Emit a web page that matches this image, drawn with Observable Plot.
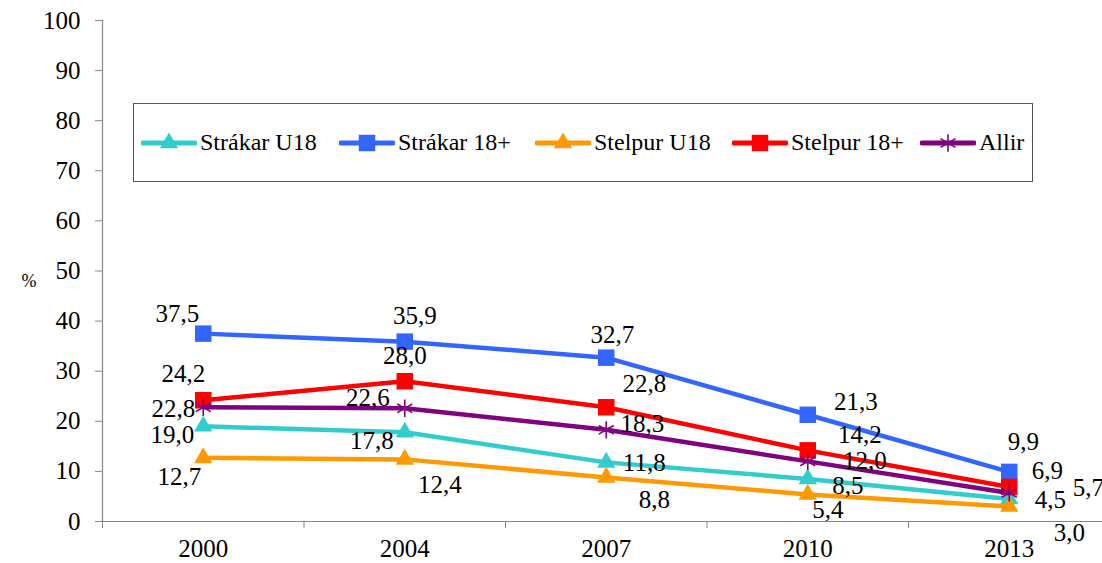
<!DOCTYPE html>
<html>
<head>
<meta charset="utf-8">
<script src="https://cdn.jsdelivr.net/npm/d3@7"></script>
<script src="https://cdn.jsdelivr.net/npm/@observablehq/plot@0.6"></script>
<style>
  html, body { margin: 0; padding: 0; background: #fff; overflow: hidden; }
  #wrap { position: relative; width: 1102px; height: 563px; font-family: 'Liberation Serif', Tinos, 'Times New Roman', Times, 'Nimbus Roman', 'FreeSerif', 'Noto Serif', 'DejaVu Serif', serif; }
  #legend { position: absolute; left: 133px; top: 103px; width: 900px; height: 79px; border: 1px solid #555; background: #fff;
            box-sizing: border-box; }
  .item { position: absolute; top: 0; height: 77px; display: flex; align-items: center; width: max-content; white-space: nowrap; }
  .item svg { flex-shrink: 0; }
  .item span { flex-shrink: 0; font-size: 24px; color: #000; margin-left: 3px; white-space: nowrap; }
</style>
</head>
<body>
<div id="wrap"></div>
<script>
// ---- data ----
const years = ["2000", "2004", "2007", "2010", "2013"];
const seriesNames = ["Strákar U18", "Strákar 18+", "Stelpur U18", "Stelpur 18+", "Allir"];
const strakarU18 = [19.0, 17.8, 11.8, 8.5, 4.5];
const strakar18 = [37.5, 35.9, 32.7, 21.3, 9.9];
const stelpurU18 = [12.7, 12.4, 8.8, 5.4, 3.0];
const stelpur18 = [24.2, 28.0, 22.8, 14.2, 6.9];
const allir = [22.8, 22.6, 18.3, 12.0, 5.7];
const yTicks = [0, 10, 20, 30, 40, 50, 60, 70, 80, 90, 100];

// ---- styles / layout ----
const seriesValues = [strakarU18, strakar18, stelpurU18, stelpur18, allir];
const colors = ["#33CCCC", "#3366FF", "#FF9900", "#FF0000", "#800080"];
const symbols = ["triangle", "square", "triangle", "square", "asterisk"];
const radii = [6.8, 9.3, 6.8, 9.3, 8.2];
const legendLeft = [7, 205, 401, 598, 786]; // px inside legend box
// data label offsets [dx, dy] in px per series / year
const labelOffsets = [
  [[-31, 9], [-33, 9], [38, 1], [40, 7], [41, 1]],
  [[-26, -20], [10, -26], [6, -23], [48, -13], [14, -30]],
  [[-24, 19], [35, 26], [48, 23], [20, 16], [60, 27]],
  [[-20, -26], [0, -25], [38, -23], [52, -15], [38, -16]],
  [[-30, 2], [-37, -10], [36, -6], [57, 0], [79, -5]]
];
const axisColor = "#868686";
const font = "'Liberation Serif', Tinos, 'Times New Roman', Times, 'Nimbus Roman', 'FreeSerif', 'Noto Serif', 'DejaVu Serif', serif";

const rows = [];
seriesNames.forEach((s, si) => {
  seriesValues[si].forEach((v, i) => rows.push({series: s, si, i, year: years[i], pos: i + 0.5, value: v}));
});
const fmt = v => v.toFixed(1).replace(".", ",");

const marks = [
  Plot.ruleY([0], {stroke: axisColor, strokeWidth: 1.2}),
  Plot.ruleX([0], {stroke: axisColor, strokeWidth: 1.2}),
  Plot.axisY({ticks: yTicks, tickSize: 7, tickPadding: 15, fontSize: 25, stroke: axisColor, fill: "#000", label: null}),
  Plot.axisX({ticks: [0, 1, 2, 3, 4, 5], tickSize: 7, tickFormat: () => "", stroke: axisColor, label: null}),
  Plot.axisX({ticks: years.map((y, i) => i + 0.5), tickSize: 0, tickPadding: 18, fontSize: 25, fill: "#000",
              tickFormat: d => years[Math.round(d - 0.5)], label: null}),
  Plot.text(["%"], {frameAnchor: "left", dx: -81, dy: 10, fontSize: 18, fill: "#000"})
];

seriesNames.forEach((s, si) => {
  const data = rows.filter(r => r.si === si);
  marks.push(Plot.line(data, {x: "pos", y: "value", stroke: colors[si], strokeWidth: 4.5}));
  if (symbols[si] === "asterisk") {
    marks.push(Plot.dot(data, {x: "pos", y: "value", symbol: "asterisk", r: radii[si], stroke: colors[si], strokeWidth: 1.6}));
  } else {
    marks.push(Plot.dot(data, {x: "pos", y: "value", symbol: symbols[si], r: radii[si], fill: colors[si], stroke: "none"}));
  }
});
rows.forEach(r => {
  const [dx, dy] = labelOffsets[r.si][r.i];
  marks.push(Plot.text([r], {x: "pos", y: "value", text: d => fmt(d.value), dx, dy, fontSize: 25, fill: "#000",
                             textAnchor: "middle", lineAnchor: "middle"}));
});

const chart = Plot.plot({
  width: 1102,
  height: 563,
  marginLeft: 102,
  marginTop: 20,
  marginBottom: 42,
  marginRight: 0,
  x: {domain: [0, 5], range: [102, 1109.5], axis: null},
  y: {domain: [0, 100], range: [521, 20], axis: null},
  style: {fontFamily: font, background: "#fff", color: "#000"},
  marks
});
const wrap = document.getElementById("wrap");
wrap.appendChild(chart);

// ---- legend ----
const legend = document.createElement("div");
legend.id = "legend";
seriesNames.forEach((s, si) => {
  const item = document.createElement("div");
  item.className = "item";
  item.style.left = legendLeft[si] + "px";
  const svg = d3.create("svg").attr("width", 56).attr("height", 24);
  svg.append("line").attr("x1", 2).attr("x2", 54).attr("y1", 12).attr("y2", 12)
     .attr("stroke", colors[si]).attr("stroke-width", 5).attr("stroke-linecap", "round");
  const symMap = {triangle: d3.symbolTriangle, square: d3.symbolSquare, asterisk: d3.symbolAsterisk};
  const size = Math.PI * radii[si] * radii[si];
  const p = svg.append("path").attr("transform", "translate(28,12)").attr("d", d3.symbol(symMap[symbols[si]], size)());
  if (symbols[si] === "asterisk") p.attr("fill", "none").attr("stroke", colors[si]).attr("stroke-width", 1.6);
  else p.attr("fill", colors[si]);
  item.appendChild(svg.node());
  const span = document.createElement("span");
  span.textContent = s;
  item.appendChild(span);
  legend.appendChild(item);
});
wrap.appendChild(legend);
</script>
</body>
</html>
